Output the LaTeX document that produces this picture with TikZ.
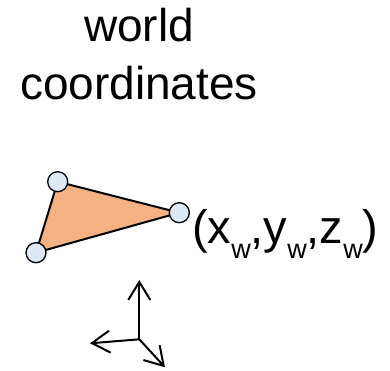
\documentclass[tikz,border=0pt]{standalone}
\usepackage{fontspec}
\setmainfont{Liberation Sans}
\usetikzlibrary{arrows.meta}
\definecolor{triorange}{HTML}{F4B183}
\definecolor{vertblue}{HTML}{DEE8F4}
\newcommand{\subw}{\raisebox{-15pt}{\fontsize{27}{27}\selectfont w}}
\tikzset{
  vertex/.style={circle, draw=black, fill=vertblue, line width=1.3pt, minimum size=20pt, inner sep=0pt},
  title/.style={font=\fontsize{46}{58}\selectfont, align=center, inner sep=0pt},
  label/.style={font=\fontsize{47}{47}\selectfont, inner sep=0pt, anchor=base west},
  axis/.style={line width=2pt, -{Straight Barb[length=18pt, width=22pt, line width=2pt]}}
}
\begin{document}
\begin{tikzpicture}[x=1pt, y=-1pt]
\useasboundingbox (0,0) rectangle (390,371);
\node[title, anchor=base] (t1) at (139,41.7) {world};
\node[title, anchor=base] (t2) at (139,100) {coordinates};
\coordinate (A) at (57.7,181.7);
\coordinate (B) at (179.3,212.7);
\coordinate (C) at (36,252.7);
\draw[fill=triorange, line width=2pt, line join=round] (A) -- (B) -- (C) -- cycle;
\node[vertex] (va) at (A) {};
\node[vertex] (vb) at (B) {};
\node[vertex] (vc) at (C) {};
\node[label] (lab) at (192,243.3) {(x\subw,y\subw,z\subw)};
\coordinate (O) at (139.3,339.3);
\coordinate (Y) at (139.3,280);
\coordinate (X) at (90,343.3);
\coordinate (Z) at (165,367.3);
\draw[axis] (O) -- (Y);
\draw[axis] (O) -- (X);
\draw[axis] (O) -- (Z);
\end{tikzpicture}
\end{document}
